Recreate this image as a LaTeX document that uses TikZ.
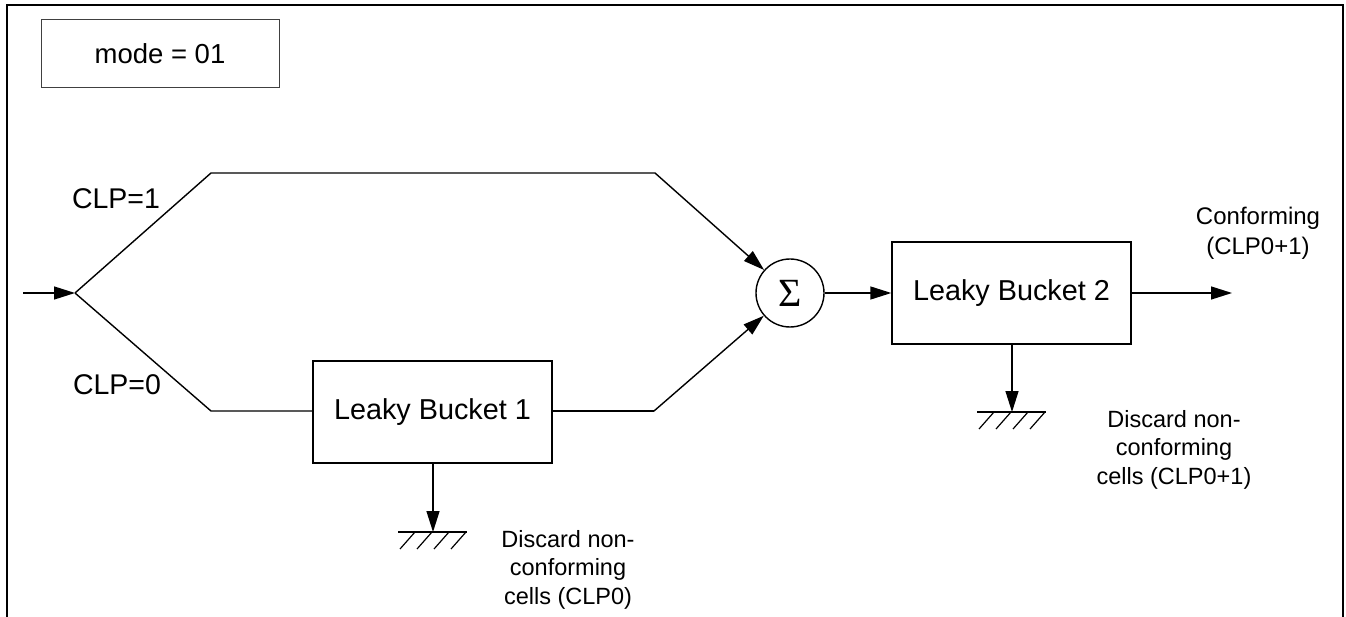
\documentclass[tikz,border=0pt]{standalone}
\usepackage{fontspec}
\setmainfont{Liberation Sans}
\newfontfamily\sigmafont{Liberation Serif}
\usetikzlibrary{arrows.meta}
\tikzset{
  wire/.style={line width=1.4pt, line join=miter},
  arr/.style={wire, -{Triangle[length=21pt,width=13pt]}},
  bucket/.style={draw, line width=1.4pt, minimum width=239pt, minimum height=102pt, inner sep=0pt, font=\fontsize{28.8}{32}\selectfont},
  biglbl/.style={inner sep=0pt, font=\fontsize{28.5}{32}\selectfont},
  smalllbl/.style={inner sep=0pt, align=center, font=\fontsize{23.5}{28.5}\selectfont},
  hatch/.style={line width=1.2pt},
}
\begin{document}
\begin{tikzpicture}[x=1pt,y=-1pt]
\useasboundingbox (0,0) rectangle (1346,617);
% frame
\draw[line width=1.4pt] (7,617) -- (7,5) -- (1343,5) -- (1343,617);
% mode box
\node[draw=black!75, line width=1pt, minimum width=238pt, minimum height=68pt, inner sep=0pt, font=\fontsize{27.5}{32}\selectfont] (mode) at (160,54) {mode = 01};
% coordinates
\coordinate (in) at (23,293);
\coordinate (split) at (75,293);
\coordinate (u1) at (211,173);
\coordinate (u2) at (655,173);
\coordinate (l1) at (211,411);
\coordinate (l2) at (654,411);
\coordinate (out) at (1232,293);
% nodes
\node[bucket] (lb1) at (432.5,412) {Leaky Bucket 1};
\node[bucket] (lb2) at (1011.5,293) {Leaky Bucket 2};
\node[draw, circle, line width=1.4pt, minimum size=68pt, inner sep=0pt] (sig) at (790,293) {\sigmafont\fontsize{40}{44}\selectfont Σ};
\node[biglbl] (clp1) at (116,199) {CLP=1};
\node[biglbl] (clp0) at (117,385) {CLP=0};
\node[smalllbl, font=\fontsize{24}{30}\selectfont] (conf) at (1258,233) {Conforming\\(CLP0+1)};
\node[smalllbl, anchor=north] (disc1) at (568,530) {Discard non-\\conforming\\cells (CLP0)};
\node[smalllbl, anchor=north] (disc2) at (1174,410) {Discard non-\\conforming\\cells (CLP0+1)};
% ground points
\coordinate (g1) at (433,532);
\coordinate (g2) at (1012,412);
% connectors
\draw[arr] (in) -- (split);
\draw[wire] (split) -- (u1) -- (u2);
\draw[arr] (u2) -- (sig);
\draw[wire] (split) -- (l1) -- (lb1.west |- l1);
\draw[wire] (lb1.east |- l2) -- (l2);
\draw[arr] (l2) -- (sig);
\draw[arr] (sig) -- (lb2.west |- sig);
\draw[arr] (lb2.east |- out) -- (out);
\draw[arr] (lb1.south -| g1) -- (g1);
\draw[arr] (lb2.south -| g2) -- (g2);
% ground symbols
\draw[wire] ([xshift=-35pt]g1) -- ([xshift=34pt]g1);
\foreach \dx in {-18,-1,16,33} \draw[hatch] ([xshift=\dx pt]g1) -- ++(-15,17);
\draw[wire] ([xshift=-35pt]g2) -- ([xshift=34pt]g2);
\foreach \dx in {-18,-1,16,33} \draw[hatch] ([xshift=\dx pt]g2) -- ++(-15,17);
\end{tikzpicture}
\end{document}
